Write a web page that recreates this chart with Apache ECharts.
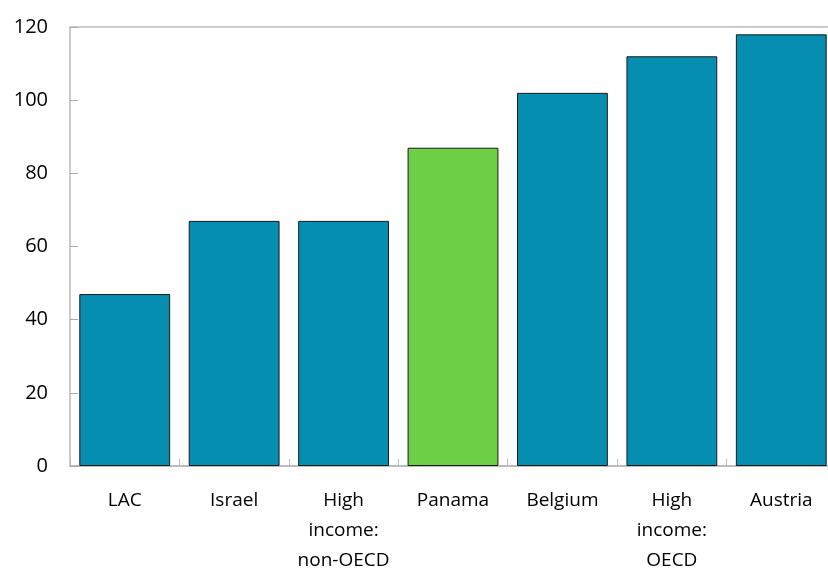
<!DOCTYPE html>
<html><head><meta charset="utf-8">
<script src="https://cdn.jsdelivr.net/npm/echarts@6/dist/echarts.min.js"></script>
<style>html,body{margin:0;padding:0;background:#fff}#c{width:828px;height:570px}</style>
</head><body><div id="c"></div>
<script>
const categories = ['LAC', 'Israel', 'High\nincome:\nnon-OECD', 'Panama', 'Belgium', 'High\nincome:\nOECD', 'Austria'];
const values = [47, 67, 67, 87, 102, 112, 118];
const highlight = 'Panama';
const yTicks = {min: 0, max: 120, interval: 20};

const chart = echarts.init(document.getElementById('c'));
chart.setOption({
  animation: false,
  grid: {left: 70, right: -8, top: 27, bottom: 104, outerBoundsMode: 'none', containLabel: false},
  xAxis: [{
    type: 'category', data: categories,
    axisLine: {lineStyle: {color: '#bbbbbb', width: 2}},
    axisTick: {show: true, inside: true, length: 7, lineStyle: {color: '#bbbbbb'}},
    axisLabel: {interval: 0, color: '#000', fontFamily: 'Open Sans', fontSize: 19, lineHeight: 30, margin: 20}
  }, {
    type: 'category', data: categories, position: 'top',
    axisLine: {lineStyle: {color: '#bbbbbb', width: 1.5}},
    axisTick: {show: false}, axisLabel: {show: false}
  }],
  yAxis: {
    type: 'value', min: yTicks.min, max: yTicks.max, interval: yTicks.interval,
    axisLine: {show: true, lineStyle: {color: '#bbbbbb', width: 1.5}},
    axisTick: {show: true, inside: true, length: 8, lineStyle: {color: '#aaaaaa', width: 1}},
    splitLine: {show: false},
    axisLabel: {color: '#000', fontFamily: 'Open Sans', fontSize: 20, margin: 22}
  },
  series: [{
    type: 'bar', barCategoryGap: '17%',
    data: values.map((v, i) => ({
      value: v,
      itemStyle: {color: categories[i] === highlight ? '#6dd046' : '#058eb0'}
    })),
    itemStyle: {borderColor: '#1a1a1a', borderWidth: 1}
  }]
});
</script></body></html>
